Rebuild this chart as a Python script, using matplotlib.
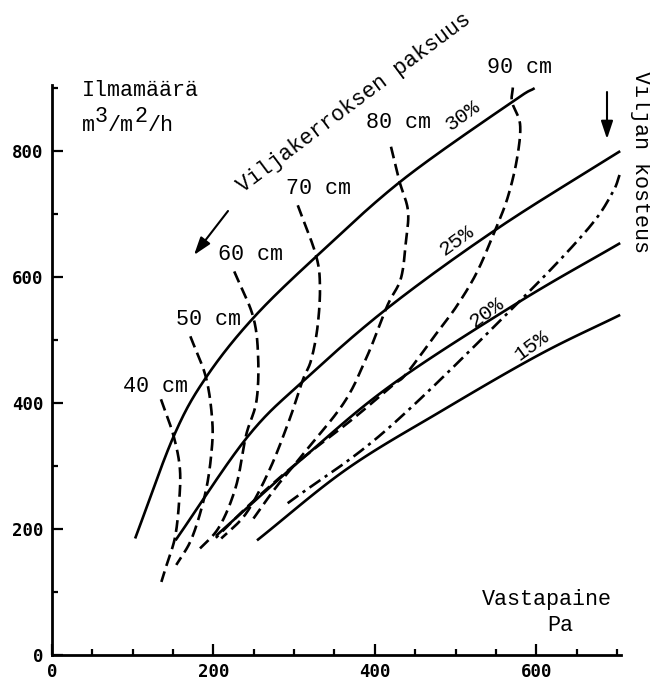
import matplotlib
matplotlib.use("Agg")
import matplotlib.pyplot as plt
import numpy as np

# ---------------- data ----------------
# moisture curves (solid): pressure Pa -> air flow m3/m2/h
m30_x = [103, 151, 191, 250, 331, 435, 570, 598]
m30_y = [185, 348, 441, 536, 637, 755, 878, 900]
m25_x = [153, 242, 314, 417, 553, 704]
m25_y = [182, 346, 438, 552, 678, 800]
m20_x = [203, 314, 422, 578, 704]
m20_y = [189, 316, 430, 560, 654]
m15_x = [254, 365, 482, 604, 704]
m15_y = [182, 295, 387, 477, 540]

# layer-thickness curves (dashed)
c40_x = [135, 150.6, 158.5, 157.3, 152.3, 142, 135.5]
c40_y = [406, 348, 295, 240, 186, 143, 116]
c50_x = [171.4, 190.7, 198.5, 197.6, 190, 173.4, 154]
c50_y = [506, 441, 373, 322, 257, 186, 143]
c60_x = [225.8, 249, 255.4, 253.3, 240.5, 228, 207, 180]
c60_y = [609, 538, 473.5, 403, 349, 268, 203, 165]
c70_x = [304.5, 327, 332, 329, 321, 310.7, 294, 269.5, 240.6, 209.7]
c70_y = [714, 635, 585, 521, 468, 436.5, 373, 294, 225, 185]
c80_x = [420, 430, 441, 438.6, 432.3, 415.6, 392, 363, 315, 278, 247]
c80_y = [807, 754, 706, 658, 598, 555, 479, 403, 325, 267, 212]
c90_x = [571, 570, 580, 576, 565, 550.6, 527, 502, 476.6, 439, 422, 370, 311, 250, 203]
c90_y = [901, 878, 842, 787, 728, 679, 609, 555, 511, 446.5, 428, 372, 313, 245, 186]
# dash-dot curve
dd_x = [292, 414, 578, 663, 694, 704]
dd_y = [241, 357, 560, 675, 733, 765]

moist_labels = ["30%", "25%", "20%", "15%"]
moist_label_xy = [(509, 857), (501, 658), (539, 544), (594, 492)]
layer_labels = ["40 cm", "50 cm", "60 cm", "70 cm", "80 cm", "90 cm"]
layer_label_xy = [(128, 427), (194.5, 532), (245.5, 636), (330, 740), (429.5, 846), (579.5, 932)]

x_major = [0, 200, 400, 600]
y_major = [0, 200, 400, 600, 800]

# ---------------- helpers ----------------
SX, SY = 0.807, 0.63  # approx. pixel per unit, for even smoothing


def smooth(xs, ys, n=30):
    P = np.column_stack([np.asarray(xs, float) * SX, np.asarray(ys, float) * SY])
    P = np.vstack([2 * P[0] - P[1], P, 2 * P[-1] - P[-2]])
    out = []
    t = np.linspace(0, 1, n, endpoint=False)[:, None]
    for i in range(1, len(P) - 2):
        p0, p1, p2, p3 = P[i - 1], P[i], P[i + 1], P[i + 2]
        a = 2 * p1
        b = p2 - p0
        c = 2 * p0 - 5 * p1 + 4 * p2 - p3
        d = -p0 + 3 * p1 - 3 * p2 + p3
        out.append(0.5 * (a + b * t + c * t ** 2 + d * t ** 3))
    out.append(P[-2][None, :])
    Q = np.vstack(out)
    return Q[:, 0] / SX, Q[:, 1] / SY


MONO = "Liberation Mono"
FS = 15.7
CW = FS * 0.6 * 100 / 72  # monospace cell width in pixels

fig = plt.figure(figsize=(6.5, 6.8), dpi=100)
ax = fig.add_axes([52 / 650, 25 / 680, (621 - 52) / 650, (655 - 85) / 680])
ax.set_xlim(0, 705)
ax.set_ylim(0, 905)

lw = 1.9
for xs, ys in [(m30_x, m30_y), (m25_x, m25_y), (m20_x, m20_y), (m15_x, m15_y)]:
    sx, sy = smooth(xs, ys)
    ax.plot(sx, sy, color="black", lw=lw, solid_capstyle="butt")

for xs, ys in [(c40_x, c40_y), (c50_x, c50_y), (c60_x, c60_y), (c70_x, c70_y),
               (c80_x, c80_y), (c90_x, c90_y)]:
    sx, sy = smooth(xs, ys)
    ax.plot(sx, sy, color="black", lw=lw, linestyle=(0, (4.5, 2.2)))

sx, sy = smooth(dd_x, dd_y)
ax.plot(sx, sy, color="black", lw=lw, linestyle=(0, (5, 2, 1.2, 2)))

for lab, (x, y) in zip(layer_labels, layer_label_xy):
    ax.text(x, y, lab, family=MONO, fontsize=FS, ha="center", va="center", clip_on=False)
for lab, (x, y) in zip(moist_labels, moist_label_xy):
    ax.text(x, y, lab, family=MONO, fontsize=FS - 0.5, ha="center", va="center",
            rotation=36, rotation_mode="anchor", clip_on=False)

# axes styling
for s in ["top", "right"]:
    ax.spines[s].set_visible(False)
for s in ["left", "bottom"]:
    ax.spines[s].set_linewidth(2)
ax.set_xticks(x_major)
ax.set_xticks(np.arange(0, 701, 50), minor=True)
ax.set_yticks(y_major)
ax.set_yticks(np.arange(0, 901, 100), minor=True)
ax.set_xticklabels([str(v) for v in x_major])
ax.set_yticklabels([str(v) for v in y_major])
ax.tick_params(which="major", direction="in", length=8, width=1.6, pad=6)
ax.tick_params(which="minor", direction="in", length=4.5, width=1.6)
for lab in ax.get_xticklabels() + ax.get_yticklabels():
    lab.set_fontfamily("DejaVu Sans Mono")
    lab.set_fontweight("bold")
    lab.set_fontsize(12.5)

# annotation texts
x0 = 82
fig.text(x0 / 650, 1 - 96 / 680, "Ilmamäärä", family=MONO, fontsize=FS, ha="left", va="baseline")
unit_parts = [("m", 0, 0), ("3", 1, 9), ("/m", 2, 0), ("2", 4, 9), ("/h", 5, 0)]
for txt, cell, raise_px in unit_parts:
    fig.text((x0 + cell * CW) / 650, 1 - (131 - raise_px) / 680, txt, family=MONO,
             fontsize=FS, ha="left", va="baseline")

fig.text(354 / 650, 1 - 103 / 680, "Viljakerroksen paksuus", family=MONO, fontsize=FS,
         ha="center", va="center", rotation=36.8, rotation_mode="anchor")
fig.text(640 / 650, 1 - 162 / 680, "Viljan kosteus", family=MONO, fontsize=FS,
         ha="center", va="center", rotation=-90, rotation_mode="anchor")
fig.text(612 / 650, 1 - 605 / 680, "Vastapaine", family=MONO, fontsize=FS, ha="right", va="baseline")
fig.text(560 / 650, 1 - 631 / 680, "Pa", family=MONO, fontsize=FS, ha="center", va="baseline")

arrow_kw = dict(arrowstyle="-|>,head_length=0.9,head_width=0.3", color="black", lw=1.5,
                shrinkA=0, shrinkB=0)
fig.add_artist(matplotlib.patches.FancyArrowPatch(
    (228 / 650, 1 - 211 / 680), (194 / 650, 1 - 255 / 680), transform=fig.transFigure,
    mutation_scale=12, **arrow_kw))
fig.add_artist(matplotlib.patches.FancyArrowPatch(
    (607 / 650, 1 - 92 / 680), (607 / 650, 1 - 139 / 680), transform=fig.transFigure,
    mutation_scale=12, **arrow_kw))

fig.savefig("out.png", dpi=100)
